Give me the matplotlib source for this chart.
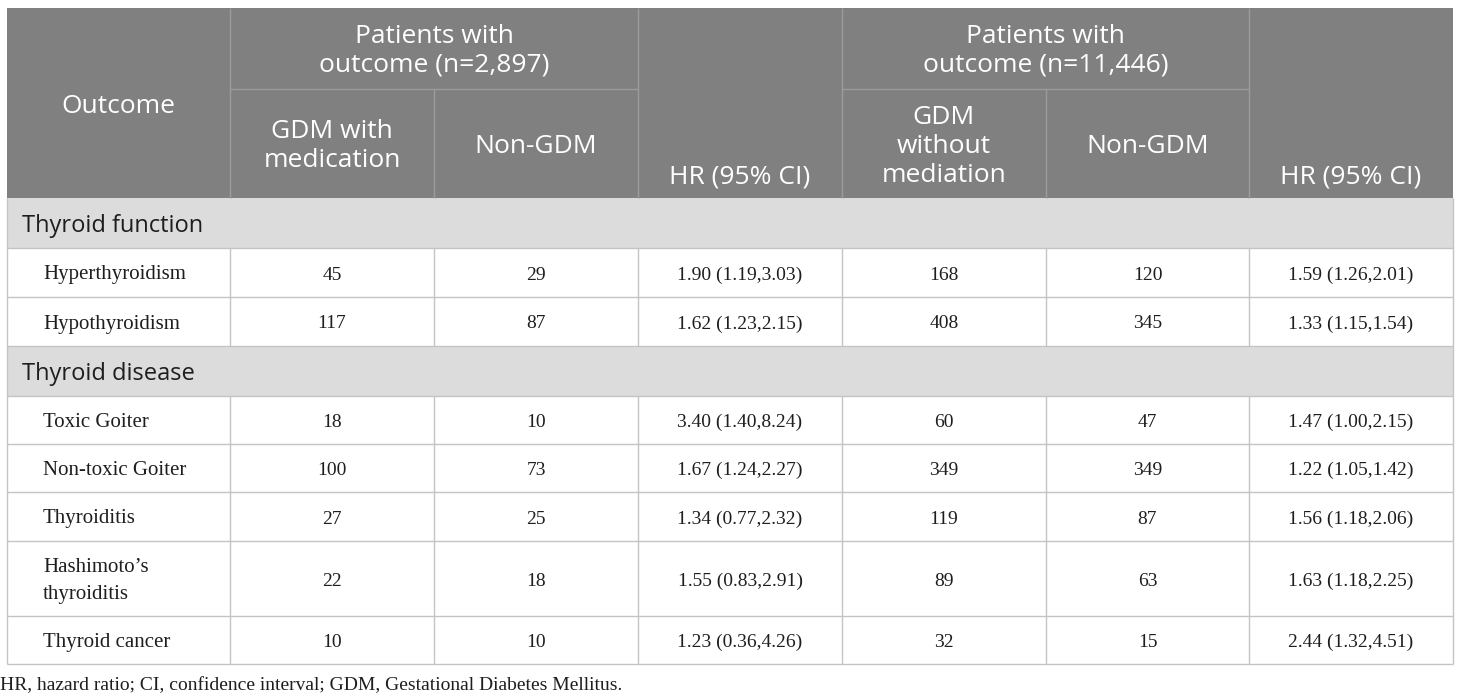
import matplotlib
matplotlib.use("Agg")
import matplotlib.pyplot as plt
from matplotlib.patches import Rectangle

W, H = 1460, 699

# ---------------- data ----------------
header_left_group = ["Patients with", "outcome (n=2,897)"]
header_right_group = ["Patients with", "outcome (n=11,446)"]
col_headers = [["Outcome"], ["GDM with", "medication"], ["Non-GDM"], ["HR (95% CI)"],
               ["GDM", "without", "mediation"], ["Non-GDM"], ["HR (95% CI)"]]

sections = ["Thyroid function", "Thyroid disease"]
outcomes = [
    [["Hyperthyroidism"], ["Hypothyroidism"]],
    [["Toxic Goiter"], ["Non-toxic Goiter"], ["Thyroiditis"],
     ["Hashimoto\u2019s", "thyroiditis"], ["Thyroid cancer"]],
]
gdm_med = [[45, 117], [18, 100, 27, 22, 10]]
nongdm_1 = [[29, 87], [10, 73, 25, 18, 10]]
hr_1 = [["1.90 (1.19,3.03)", "1.62 (1.23,2.15)"],
        ["3.40 (1.40,8.24)", "1.67 (1.24,2.27)", "1.34 (0.77,2.32)",
         "1.55 (0.83,2.91)", "1.23 (0.36,4.26)"]]
gdm_nomed = [[168, 408], [60, 349, 119, 89, 32]]
nongdm_2 = [[120, 345], [47, 349, 87, 63, 15]]
hr_2 = [["1.59 (1.26,2.01)", "1.33 (1.15,1.54)"],
        ["1.47 (1.00,2.15)", "1.22 (1.05,1.42)", "1.56 (1.18,2.06)",
         "1.63 (1.18,2.25)", "2.44 (1.32,4.51)"]]
footnote = "HR, hazard ratio; CI, confidence interval; GDM, Gestational Diabetes Mellitus."

# ---------------- layout ----------------
col_x = [7, 230, 434, 638, 842, 1046, 1249, 1453]
top, sub_y, head_bot = 8, 89, 198
section_h = 50
row_hs = [[49, 49], [48, 48, 49, 75, 48]]

HEAD_BG = "#808080"
SEC_BG = "#dcdcdc"
GRID = "#c4c4c4"
HEAD_LINE = "#9c9c9c"
TXT = "#1e1e1e"

sans = ["Open Sans", "DejaVu Sans"]
serif = ["Liberation Serif", "DejaVu Serif"]

fig = plt.figure(figsize=(W / 100, H / 100), dpi=100)
ax = fig.add_axes([0, 0, 1, 1])
ax.set_xlim(0, W)
ax.set_ylim(H, 0)
ax.axis("off")

def hline(y, x0, x1, c=GRID, lw=1.0):
    ax.plot([x0, x1], [y, y], color=c, lw=lw, solid_capstyle="butt")

def vline(x, y0, y1, c=GRID, lw=1.0):
    ax.plot([x, x], [y0, y1], color=c, lw=lw, solid_capstyle="butt")

def lines_text(x, base_last, lines, spacing, **kw):
    n = len(lines)
    for k, t in enumerate(lines):
        ax.text(x, base_last - (n - 1 - k) * spacing, t, va="baseline", **kw)

# header background
ax.add_patch(Rectangle((col_x[0], top), col_x[-1] - col_x[0], head_bot - top,
                       facecolor=HEAD_BG, edgecolor="none"))
# header lines
hline(sub_y, col_x[1], col_x[3], HEAD_LINE)
hline(sub_y, col_x[4], col_x[6], HEAD_LINE)
for i in [1, 3, 4, 6]:
    vline(col_x[i], top, head_bot, HEAD_LINE)
for i in [2, 5]:
    vline(col_x[i], sub_y, head_bot, HEAD_LINE)

hkw = dict(ha="center", fontsize=19, color="white", family=sans)
HS = 29
mid = lambda i, j: (col_x[i] + col_x[j]) / 2
lines_text(mid(0, 1), 113, col_headers[0], HS, **hkw)
lines_text(mid(1, 3), 72, header_left_group, HS, **hkw)
lines_text(mid(4, 6), 72, header_right_group, HS, **hkw)
lines_text(mid(1, 2), 167, col_headers[1], HS, **hkw)
lines_text(mid(2, 3), 153, col_headers[2], HS, **hkw)
lines_text(mid(3, 4), 183, col_headers[3], HS, **hkw)
lines_text(mid(4, 5), 182, col_headers[4], HS, **hkw)
lines_text(mid(5, 6), 153, col_headers[5], HS, **hkw)
lines_text(mid(6, 7), 183, col_headers[6], HS, **hkw)

# body
y = head_bot
nkw = dict(ha="left", fontsize=15, color=TXT, family=serif)
dkw = dict(ha="center", fontsize=14, color=TXT, family=serif)
cols_data = [gdm_med, nongdm_1, hr_1, gdm_nomed, nongdm_2, hr_2]
for s, sec in enumerate(sections):
    ax.add_patch(Rectangle((col_x[0], y), col_x[-1] - col_x[0], section_h,
                           facecolor=SEC_BG, edgecolor="none"))
    ax.text(22, y + section_h / 2 + 9, sec, ha="left", va="baseline", fontsize=17,
            color=TXT, family=sans)
    hline(y + section_h, col_x[0], col_x[-1])
    y += section_h
    for r, name in enumerate(outcomes[s]):
        h = row_hs[s][r]
        yc = y + h / 2
        n = len(name)
        lines_text(43, yc + 7 + (n - 1) * 13, name, 26, **nkw)
        for c, data in enumerate(cols_data):
            ax.text(mid(c + 1, c + 2), yc + 7, str(data[s][r]), va="baseline", **dkw)
        for i in range(1, 7):
            vline(col_x[i], y, y + h)
        y += h
        hline(y, col_x[0], col_x[-1])

# outer borders of body
vline(col_x[0], head_bot, y)
vline(col_x[-1], head_bot, y)

ax.text(0, 690, footnote, ha="left", va="baseline", fontsize=14,
        color=TXT, family=serif)

fig.savefig("out.png", dpi=100)
